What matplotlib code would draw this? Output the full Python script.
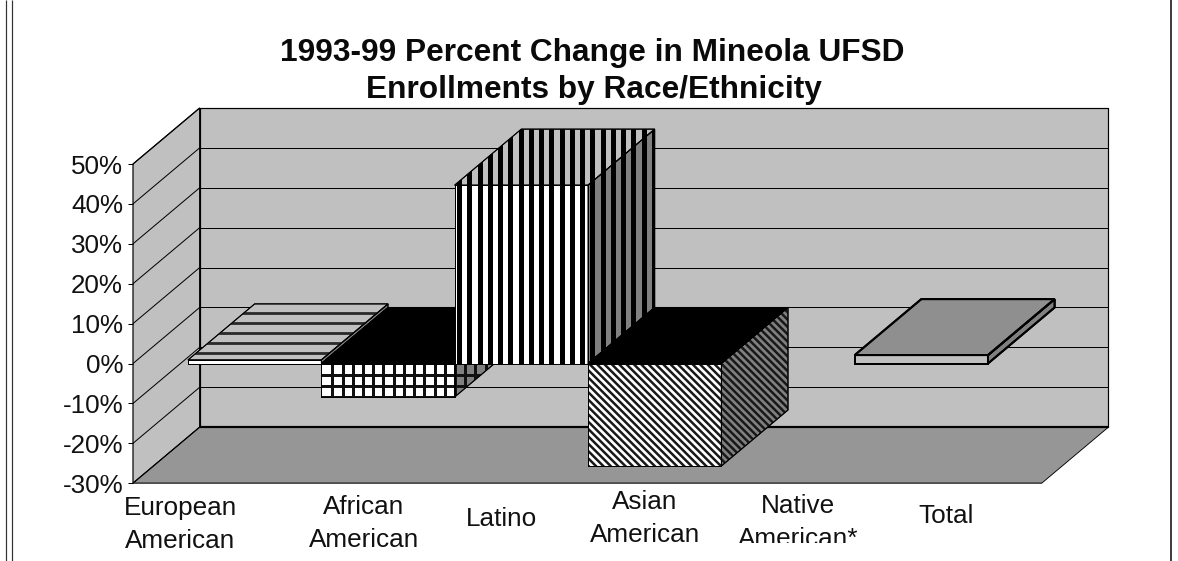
import matplotlib
matplotlib.use("Agg")
import matplotlib.pyplot as plt
import numpy as np
from matplotlib.collections import LineCollection
from matplotlib.patches import Polygon, Rectangle
from matplotlib.transforms import Affine2D

plt.rcParams['font.family'] = ['Liberation Sans', 'DejaVu Sans']

categories = ['European\nAmerican', 'African\nAmerican', 'Latino',
              'Asian\nAmerican', 'Native\nAmerican*', 'Total']
changes = [0.9, -8.4, 44.7, -25.7, 0.0, 2.1]
ticks = [-30, -20, -10, 0, 10, 20, 30, 40, 50]
title = '1993-99 Percent Change in Mineola UFSD\nEnrollments by Race/Ethnicity'

W, H = 1178, 561
PX_X0, PX_PER_CAT = 188.0, 133.33
PX_Y0, PX_PER_PCT = 363.5, 3.99

# depth of the fake 3d box, in category / percent units
DX = 0.5
DY = 14.04
X_MIN, X_MAX = -0.4125, 6.403
Y_MIN, Y_MAX = -30, 50

fig = plt.figure(figsize=(W / 100, H / 100), dpi=100, facecolor='white')
ax = fig.add_axes([0, 0, 1, 1])
ax.set_xlim(-PX_X0 / PX_PER_CAT, (W - PX_X0) / PX_PER_CAT)
ax.set_ylim((PX_Y0 - H) / PX_PER_PCT, PX_Y0 / PX_PER_PCT)
ax.axis('off')

# pixels with the origin top left, used for the screen aligned fill patterns
pix = Affine2D().scale(1, -1).translate(0, H)


def lw(px):
    return px * 72 / 100


def face(points, color, edge='black', width=1.0, z=2):
    poly = Polygon(points, closed=True, facecolor=color, edgecolor=edge,
                   linewidth=lw(width), joinstyle='miter', zorder=z)
    ax.add_patch(poly)
    return poly


def line(xs, ys, width=1.0, color='black', z=1):
    ax.plot(xs, ys, color=color, linewidth=lw(width), solid_capstyle='butt', zorder=z)


def stripes(poly, segments, width, color='black', z=2):
    lc = LineCollection(segments, colors=color, linewidths=lw(width),
                        transform=pix, capstyle='butt', zorder=z)
    ax.add_collection(lc, autolim=False)
    lc.set_clip_path(poly)


def vertical(start, period, width, color='black'):
    def draw(poly, z):
        xs = np.arange(start, W, period)
        stripes(poly, [[(x, 0), (x, H)] for x in xs], width, color, z)
    return draw


def horizontal(start, period, width, color='black'):
    def draw(poly, z):
        ys = np.arange(start, H, period)
        stripes(poly, [[(0, y), (W, y)] for y in ys], width, color, z)
    return draw


def crosshatch(x_start, y_start, period_x, period_y, width, color='black'):
    v = vertical(x_start, period_x, width, color)
    h = horizontal(y_start, period_y, width, color)

    def draw(poly, z):
        v(poly, z)
        h(poly, z)
    return draw


def diagonal(start, period, width, color='black'):
    def draw(poly, z):
        offsets = np.arange(start, W + H, period)
        stripes(poly, [[(c - H, 0), (c, H)] for c in offsets], width, color, z)
    return draw


def bar3d(i, value, front, top, side, pattern=None, top_pattern=None, edge_width=1.0):
    x0, x1 = i, i + 1
    lo, hi = min(value, 0), max(value, 0)
    z = 5 + i * 2
    front_pts = [(x0, lo), (x1, lo), (x1, hi), (x0, hi)]
    top_pts = [(x0, hi), (x1, hi), (x1 + DX, hi + DY), (x0 + DX, hi + DY)]
    side_pts = [(x1, lo), (x1 + DX, lo + DY), (x1 + DX, hi + DY), (x1, hi)]

    p = face(side_pts, side, width=edge_width, z=z)
    if pattern:
        pattern(p, z)
    p = face(top_pts, top, width=edge_width, z=z)
    if top_pattern:
        top_pattern(p, z)
    p = face(front_pts, front, width=edge_width, z=z)
    if pattern:
        pattern(p, z)
    # outlines again so the stripes do not eat the edges
    for pts in (side_pts, top_pts, front_pts):
        ax.add_patch(Polygon(pts, closed=True, fill=False, edgecolor='black',
                             linewidth=lw(edge_width), joinstyle='miter', zorder=z))


# walls and floor
face([(X_MIN + DX, Y_MIN + DY), (X_MAX + DX, Y_MIN + DY), (X_MAX + DX, Y_MAX + DY), (X_MIN + DX, Y_MAX + DY)],
     '#c0c0c0', width=1.2, z=0)
face([(X_MIN, Y_MIN), (X_MIN + DX, Y_MIN + DY), (X_MIN + DX, Y_MAX + DY), (X_MIN, Y_MAX)],
     '#c0c0c0', width=1.2, z=0)
face([(X_MIN, Y_MIN), (X_MAX, Y_MIN), (X_MAX + DX, Y_MIN + DY), (X_MIN + DX, Y_MIN + DY)],
     '#969696', width=0.9, z=0.5)
line([X_MIN, X_MAX], [Y_MIN, Y_MIN], 1.6, '#505050', z=1)
line([X_MIN + DX, X_MAX + DX], [Y_MIN + DY, Y_MIN + DY], 2.2, z=1)

for t in ticks:
    line([X_MIN, X_MIN + DX], [t, t + DY], 1.0)
    line([X_MIN + DX, X_MAX + DX], [t + DY, t + DY], 1.0)
    line([X_MIN - 0.04, X_MIN], [t, t], 1.0)
    ax.text(X_MIN - 0.075, t, f'{t}%', ha='right', va='center_baseline', fontsize=18.7,
            color='#111111', zorder=3)

bar3d(0, changes[0], 'white', '#c0c0c0', '#808080',
      top_pattern=horizontal(313.3, 10, 2.8, '#2a2a2a'))
bar3d(1, changes[1], 'white', 'black', '#808080',
      pattern=crosshatch(332.3, 375, 10.22, 11, 3.0, '#101010'))
bar3d(2, changes[2], 'white', '#c0c0c0', '#808080',
      pattern=vertical(459, 10.25, 5.0), top_pattern=vertical(459, 10.25, 5.0))
bar3d(3, changes[3], 'white', 'black', '#808080',
      pattern=diagonal(0, 7.35, 2.5, '#181818'))
bar3d(5, changes[5], '#c0c0c0', '#8f8f8f', '#808080', edge_width=2.0)

# frame around the chart
line_tr = dict(transform=pix, solid_capstyle='butt', zorder=20)
ax.plot([5.5, 5.5], [0, H], color='#333333', linewidth=lw(1.2), **line_tr)
ax.plot([11.5, 11.5], [0, H], color='#333333', linewidth=lw(1.2), **line_tr)
ax.plot([1171, 1171], [0, H], color='#404040', linewidth=lw(2.0), **line_tr)

ax.text(592, 61, title.split('\n')[0], transform=pix, ha='center', va='baseline',
        fontsize=22.8, fontweight='bold', color='#0a0a0a')
ax.text(594, 98, title.split('\n')[1], transform=pix, ha='center', va='baseline',
        fontsize=22.8, fontweight='bold', color='#0a0a0a')

# category captions are free floating text boxes, each with its own position
caption_x = [180, 364, 502, 645, 798, 946]
caption_y = [515, 514, 526, 509, 513, 523]
caption_clip = Rectangle((0, 0), W, 542.7, transform=pix)
for name, cx, cy in zip(categories, caption_x, caption_y):
    for row, text in enumerate(name.split('\n')):
        t = ax.text(cx, cy + row * 32.6, text, transform=pix, ha='center', va='baseline',
                    fontsize=18.8, color='#111111', zorder=3)
        if name.startswith('Native'):
            t.set_clip_on(True)
            t.set_clip_path(caption_clip)

fig.savefig('out.png', dpi=100, facecolor='white')
